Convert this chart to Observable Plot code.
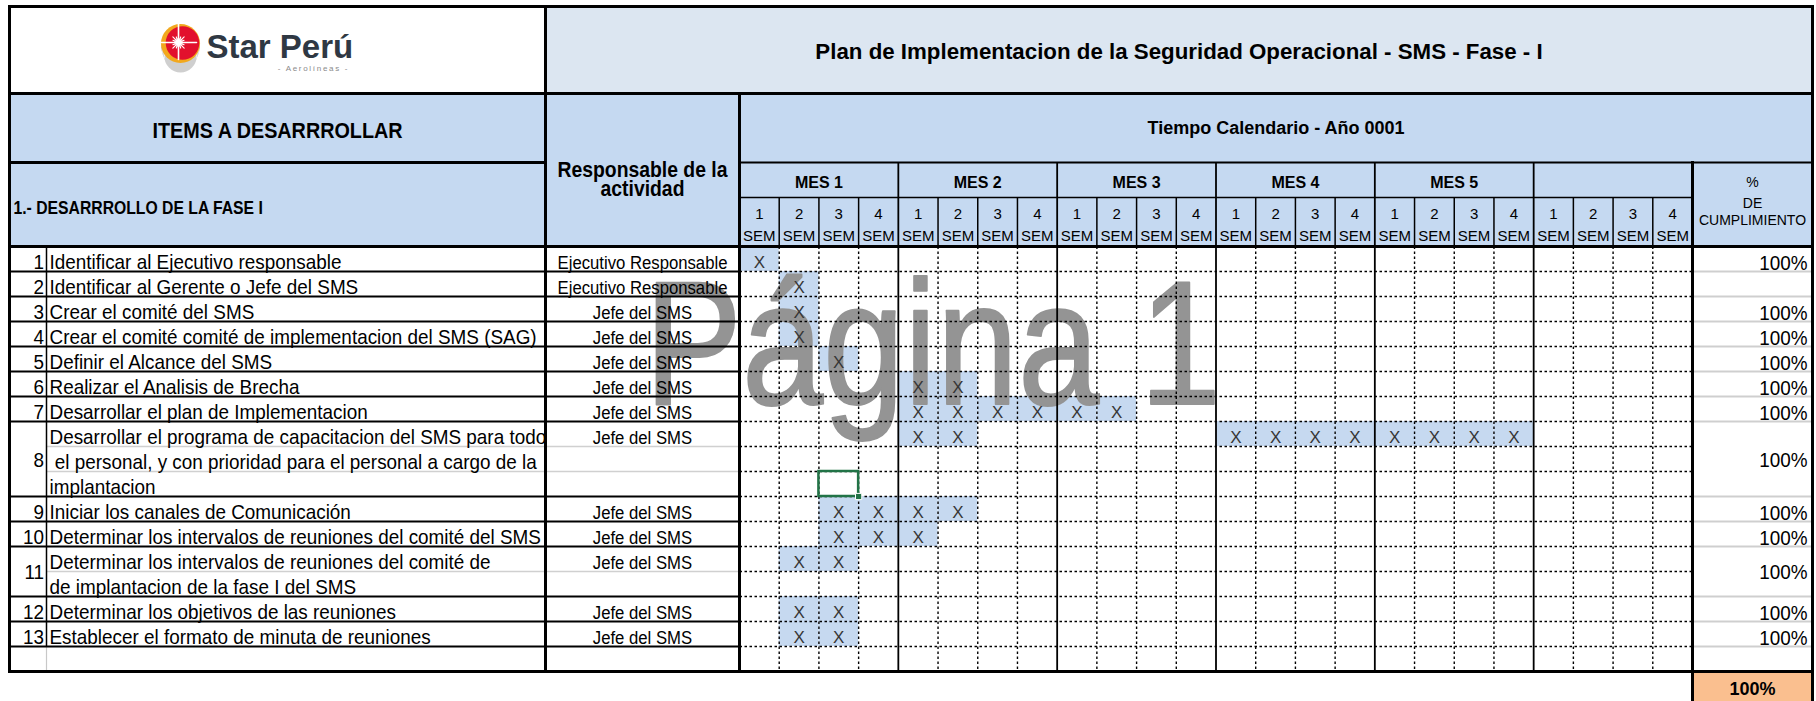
<!DOCTYPE html>
<html><head><meta charset="utf-8">
<script src="https://cdn.jsdelivr.net/npm/d3@7"></script>
<script src="https://cdn.jsdelivr.net/npm/@observablehq/plot@0.6"></script>
<style>html,body{margin:0;padding:0;background:#fff;overflow:hidden}</style>
</head><body><div id="chart"></div><script>
// ---------------- DATA ----------------
const titleText = "Plan de Implementacion de la Seguridad Operacional - SMS - Fase - I";
const calendarTitle = "Tiempo Calendario - Año 0001";
const itemsHeader = "ITEMS A DESARRROLLAR";
const phaseHeader = "1.- DESARRROLLO DE LA FASE I";
const respHeader = ["Responsable de la", "actividad"];
const pctHeader = ["%", "DE", "CUMPLIMIENTO"];
const monthLabels = ["MES 1", "MES 2", "MES 3", "MES 4", "MES 5", ""];
const weekLabels = ["1", "2", "3", "4"];
const weekUnit = "SEM";
const itemNumbers = [1, 2, 3, 4, 5, 6, 7, 8, 9, 10, 11, 12, 13];
const itemLines = [
  ["Identificar al Ejecutivo responsable"],
  ["Identificar al Gerente o Jefe del SMS"],
  ["Crear el comité del SMS"],
  ["Crear el comité comité de implementacion del SMS (SAG)"],
  ["Definir el Alcance del SMS"],
  ["Realizar el Analisis de Brecha"],
  ["Desarrollar el plan de Implementacion"],
  ["Desarrollar el programa de capacitacion del SMS para todo", "\u00a0el personal, y con prioridad para el personal a cargo de la", "implantacion"],
  ["Iniciar los canales de Comunicación"],
  ["Determinar los intervalos de reuniones del comité del SMS"],
  ["Determinar los intervalos de reuniones del comité de", "de implantacion de la fase I del SMS"],
  ["Determinar los objetivos de las reuniones"],
  ["Establecer el formato de minuta de reuniones"]
];
const itemRowSpans = [1, 1, 1, 1, 1, 1, 1, 3, 1, 1, 2, 1, 1];
const responsables = ["Ejecutivo Responsable", "Ejecutivo Responsable", "Jefe del SMS", "Jefe del SMS", "Jefe del SMS", "Jefe del SMS", "Jefe del SMS", "Jefe del SMS", "Jefe del SMS", "Jefe del SMS", "Jefe del SMS", "Jefe del SMS", "Jefe del SMS"];
const cumplimiento = [100, null, 100, 100, 100, 100, 100, 100, 100, 100, 100, 100, 100];
const semanasMarcadas = [[0], [1], [1], [1], [2], [4, 5], [4, 5, 6, 7, 8, 9], [4, 5, 12, 13, 14, 15, 16, 17, 18, 19], [2, 3, 4, 5], [2, 3, 4], [1, 2], [1, 2], [1, 2]];
const marca = "X";
const totalCumplimiento = 100;
const watermark = "Página 1";
const activeCell = {week: 2, row: 9};
const logoName = "Star Perú";
const logoSub = "- Aerolíneas -";

// ---------------- LAYOUT ----------------
const L = {W: 1816, H: 701, left: 9, right: 1812, top: 6, logoB: 93, itemsB: 162, mesB: 197, hdr: 246, rowH: 25,
  num: 46, resp: 545, cal: 739, pct: 1692};
const nWeeks = monthLabels.length * weekLabels.length;
L.weekW = (L.pct - L.cal) / nWeeks;
const starts = []; let acc = 0;
itemRowSpans.forEach(s => { starts.push(acc); acc += s; });
const nSub = acc + 1;
L.bodyB = L.hdr + nSub * L.rowH;
const X = px => (px - L.cal) / L.weekW;
const Y = py => (py - L.hdr) / L.rowH;
const segPx = a => a.map(([x1, y1, x2, y2]) => ({x1: X(x1), y1: Y(y1), x2: X(x2), y2: Y(y2)}));
const FF = "Liberation Sans, Arial, sans-serif";

// lines
const thick = segPx([
  [L.left, L.top, L.right, L.top], [L.left, L.top, L.left, L.bodyB], [L.right, L.top, L.right, L.H],
  [L.left, L.logoB, L.right, L.logoB], [L.left, L.itemsB, L.resp, L.itemsB], [L.left, L.hdr, L.right, L.hdr],
  [L.left, L.bodyB, L.right, L.bodyB], [L.resp, L.top, L.resp, L.bodyB], [L.cal, L.logoB, L.cal, L.bodyB],
  [L.pct, L.itemsB, L.pct, L.H]
]);
const medium = segPx([[L.cal, L.itemsB, L.right, L.itemsB]]);
const thinSolid = [{x1: 0, x2: nWeeks, y1: Y(L.mesB), y2: Y(L.mesB)}];
const monthLines = d3.range(1, monthLabels.length).map(m => ({x1: m * 4, x2: m * 4, y1: Y(L.itemsB), y2: nSub}));
const weekIdx = d3.range(1, nWeeks).filter(w => w % 4 !== 0);
const weekHdrLines = weekIdx.map(w => ({x1: w, x2: w, y1: Y(L.mesB), y2: 0}));
const weekBodyLines = weekIdx.map(w => ({x1: w, x2: w, y1: 0, y2: nSub}));
const rowDotted = d3.range(1, nSub).map(r => ({x1: 0, x2: nWeeks, y1: r, y2: r}));
const bounds = starts.slice(1).concat([acc]);
const itemBlack = bounds.map(r => ({x1: X(L.left), x2: 0, y1: r, y2: r}));
const pctGray = bounds.map(r => ({x1: X(L.pct), x2: X(L.right), y1: r, y2: r}));
const innerGray = itemRowSpans.flatMap((s, i) => d3.range(1, s).map(k => ({x1: X(L.num), x2: 0, y1: starts[i] + k, y2: starts[i] + k})));
const numLine = [{x1: X(L.num), x2: X(L.num), y1: 0, y2: acc}];
const numLineGray = [{x1: X(L.num), x2: X(L.num), y1: acc, y2: nSub}];

// data tables
const cells = semanasMarcadas.flatMap((ws, i) => ws.map(w => ({w, r: starts[i]})));
const itemText = itemLines.flatMap((ls, i) => ls.map((t, j) => ({t, r: starts[i] + j})));
const mergedY = (i, f) => itemRowSpans[i] === 1 ? starts[i] + 0.9 : starts[i] + itemRowSpans[i] / 2 + 0.36 * f / L.rowH;
const numText = itemNumbers.map((n, i) => ({t: String(n), y: mergedY(i, 21)}));
const respText = responsables.map((t, i) => ({t, r: starts[i]}));
const pctText = cumplimiento.map((v, i) => ({t: v == null ? "" : v + "%", y: mergedY(i, 21) + (itemRowSpans[i] === 1 ? 0.03 : 0)})).filter(d => d.t);
const months = monthLabels.map((t, m) => ({t, x: m * 4 + 2})).filter(d => d.t);
const weeks = d3.range(nWeeks).map(w => ({n: weekLabels[w % 4], s: weekUnit, x: w + 0.5}));

// logo
const logo = {cx: 180, cy: 43, r: 19.5};
const discs = [
  {dy: 13, r: 16, fill: "#cfcfcf"}, {dy: 10, r: 17, fill: "#ffffff"}, {dy: 8.5, r: 17.5, fill: "#a9a9a9"},
  {dy: 5.5, r: 18.5, fill: "#ffffff"}, {dy: 4, r: 19, fill: "#8a8a8a"}
];
const spikes = [[0, 18], [90, 17], [180, 17], [270, 18], [45, 8], [135, 8], [225, 8], [315, 8], [22, 6], [68, 6], [112, 6], [158, 6], [202, 6], [248, 6], [292, 6], [338, 6]];
const sc = {x: logo.cx - 2, y: logo.cy - 1};
const spikeSeg = spikes.map(([a, len]) => {
  const t = a * Math.PI / 180;
  return {x1: X(sc.x), y1: Y(sc.y), x2: X(sc.x + len * Math.cos(t)), y2: Y(sc.y + len * Math.sin(t)), w: len > 10 ? 1.6 : 1.1};
});

const txt = (data, o) => Plot.text(data, Object.assign({fontFamily: FF, fill: "#000", lineAnchor: "bottom"}, o));
const link = (data, o) => Plot.link(data, Object.assign({x1: "x1", y1: "y1", x2: "x2", y2: "y2"}, o));

const svg = Plot.plot({
  width: L.W, height: L.H, margin: 0,
  x: {domain: [X(0), X(L.W)], range: [0, L.W], axis: null},
  y: {domain: [Y(0), Y(L.H)], range: [0, L.H], axis: null},
  r: {type: "identity"},
  style: {background: "#ffffff", fontFamily: FF},
  marks: [
    // fills
    Plot.rect([{x1: X(L.resp), x2: X(L.right), y1: Y(L.top), y2: Y(L.logoB)}], {x1: "x1", x2: "x2", y1: "y1", y2: "y2", fill: "#dce6f1"}),
    Plot.rect([{x1: X(L.left), x2: X(L.right), y1: Y(L.logoB), y2: Y(L.hdr)}], {x1: "x1", x2: "x2", y1: "y1", y2: "y2", fill: "#c5d9f1"}),
    Plot.rect([{x1: X(L.pct), x2: X(L.right), y1: nSub, y2: Y(L.H)}], {x1: "x1", x2: "x2", y1: "y1", y2: "y2", fill: "#fabf8f"}),
    Plot.rect(cells, {x1: "w", x2: d => d.w + 1, y1: "r", y2: d => d.r + 1, fill: "#c6d9f0"}),
    // watermark
    txt([watermark], {x: () => X(644), y: () => Y(403), text: d => d, fontSize: 177, fill: "#949494", stroke: "#949494", strokeWidth: 2, textAnchor: "start", ariaDescription: "sx=0.825"}),
    // grid
    link(rowDotted, {stroke: "#000", strokeWidth: 1.4, strokeDasharray: "2.5,2.5"}),
    link(weekBodyLines, {stroke: "#000", strokeWidth: 1.4, strokeDasharray: "2.5,2.5"}),
    link(innerGray, {stroke: "#d0d0d0", strokeWidth: 1.5}),
    link(pctGray, {stroke: "#cfcfcf", strokeWidth: 2}),
    link(numLineGray, {stroke: "#c8c8c8", strokeWidth: 1.2}),
    link(itemBlack, {stroke: "#000", strokeWidth: 2}),
    link(numLine, {stroke: "#000", strokeWidth: 1.5}),
    link(weekHdrLines, {stroke: "#000", strokeWidth: 1.5}),
    link(thinSolid, {stroke: "#000", strokeWidth: 1.5}),
    link(monthLines, {stroke: "#000", strokeWidth: 1.8}),
    link(medium, {stroke: "#000", strokeWidth: 2.2}),
    link(thick, {stroke: "#000", strokeWidth: 3, strokeLinecap: "square"}),
    // active cell
    Plot.rect([activeCell], {x1: "week", x2: d => d.week + 1, y1: "row", y2: d => d.row + 1, fill: "none", stroke: "#217346", strokeWidth: 2.5}),
    Plot.dot([activeCell], {x: d => d.week + 1, y: d => d.row + 1, symbol: "square", r: 3.5, fill: "#217346", stroke: "#fff", strokeWidth: 1}),
    // header texts
    txt([titleText], {x: () => X((L.resp + L.right) / 2), y: () => Y(58), text: d => d, fontSize: 22.3, fontWeight: "bold"}),
    txt([itemsHeader], {x: () => X((L.left + L.resp) / 2), y: () => Y(137), text: d => d, fontSize: 22, fontWeight: "bold", ariaDescription: "sx=0.9"}),
    txt([phaseHeader], {x: () => X(13), y: () => Y(213), text: d => d, fontSize: 17.5, fontWeight: "bold", textAnchor: "start", ariaDescription: "sx=0.9"}),
    txt(respHeader.map((t, i) => ({t, b: 176 + i * 19})), {x: () => X((L.resp + L.cal) / 2), y: d => Y(d.b), text: "t", fontSize: 22, fontWeight: "bold", ariaDescription: "sx=0.88"}),
    txt([calendarTitle], {x: () => X((L.cal + L.right) / 2), y: () => Y(133), text: d => d, fontSize: 18, fontWeight: "bold"}),
    txt(months, {x: "x", y: () => Y(187), text: "t", fontSize: 16, fontWeight: "bold"}),
    txt(weeks, {x: "x", y: () => Y(218.5), text: "n", fontSize: 15}),
    txt(weeks, {x: "x", y: () => Y(240.5), text: "s", fontSize: 15}),
    txt(pctHeader.map((t, i) => ({t, b: [186, 207, 224][i]})), {x: () => X((L.pct + L.right) / 2), y: d => Y(d.b), text: "t", fontSize: 14}),
    // body texts
    txt(numText, {x: () => X(43.5), y: "y", text: "t", fontSize: 21, textAnchor: "end", ariaDescription: "sx=0.9"}),
    txt(itemText, {x: () => X(49), y: d => d.r + 0.9, text: "t", fontSize: 21, textAnchor: "start", ariaDescription: "sx=0.9"}),
    txt(respText, {x: () => X((L.resp + L.cal) / 2), y: d => d.r + 0.9, text: "t", fontSize: 19, ariaDescription: "sx=0.88"}),
    txt(pctText, {x: () => X(1807), y: "y", text: "t", fontSize: 21, textAnchor: "end", ariaDescription: "sx=0.9"}),
    txt(cells, {x: d => d.w + 0.5, y: d => d.r + 0.87, text: () => marca, fontSize: 17, fill: "#363636"}),
    txt([totalCumplimiento + "%"], {x: () => X((L.pct + L.right) / 2), y: () => Y(694.5), text: d => d, fontSize: 18, fontWeight: "bold"}),
    // logo
    Plot.dot(discs, {x: () => X(logo.cx), y: d => Y(logo.cy + d.dy), r: "r", fill: "fill"}),
    Plot.dot([logo], {x: d => X(d.cx), y: d => Y(d.cy), r: d => d.r, fill: "#f2a81d"}),
    Plot.dot([logo], {x: d => X(d.cx + 2), y: d => Y(d.cy - 0.5), r: () => 16.8, fill: "#e2102d"}),
    link(spikeSeg, {stroke: "#fff", strokeWidth: "w", strokeLinecap: "round"}),
    Plot.dot([sc], {x: d => X(d.x), y: d => Y(d.y), r: () => 4.5, fill: "#fff", fillOpacity: 0.55}),
    Plot.dot([sc], {x: d => X(d.x), y: d => Y(d.y), r: () => 2.5, fill: "#fff"}),
    txt([logoName], {x: () => X(206), y: () => Y(57), text: d => d, fontSize: 33, fontWeight: "bold", fill: "#2f3843", textAnchor: "start"}),
    txt([logoSub], {x: () => X(313), y: () => Y(70), text: d => d, fontSize: 8, fill: "#8a8a8a", ariaDescription: "ls=1.7"})
  ]
});

d3.select(svg).selectAll("g[aria-description]").each(function () {
  const desc = this.getAttribute("aria-description") || "";
  const sx = /sx=([\d.]+)/.exec(desc);
  const ls = /ls=([\d.]+)/.exec(desc);
  d3.select(this).selectAll("text").each(function () {
    if (sx) {
      const tr = this.getAttribute("transform");
      if (tr) this.setAttribute("transform", tr + ` scale(${sx[1]},1)`);
      else {
        const x = +this.getAttribute("x") || 0, y = +this.getAttribute("y") || 0;
        this.setAttribute("transform", `translate(${x},${y}) scale(${sx[1]},1) translate(${-x},${-y})`);
      }
    }
    if (ls) this.setAttribute("letter-spacing", ls[1]);
  });
});
document.getElementById("chart").append(svg);
</script></body></html>
